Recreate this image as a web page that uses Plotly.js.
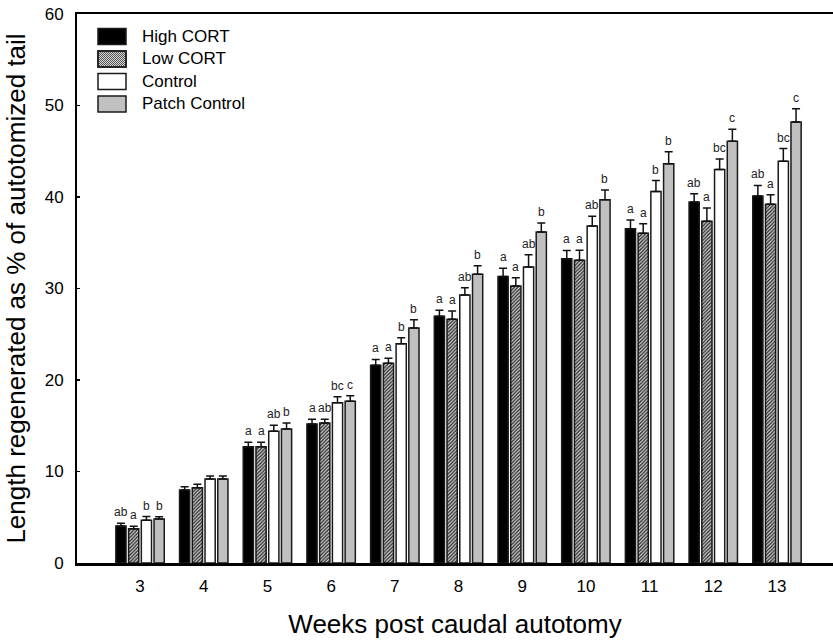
<!DOCTYPE html>
<html>
<head>
<meta charset="utf-8">
<script src="https://cdn.plot.ly/plotly-3.0.1.min.js"></script>
<style>html,body{margin:0;padding:0;background:#fff;}#chart{width:833px;height:640px;}</style>
</head>
<body>
<div id="chart"></div>
<script>
// ---- data ----
const weeks = [3, 4, 5, 6, 7, 8, 9, 10, 11, 12, 13];
const seriesNames = ["High CORT", "Low CORT", "Control", "Patch Control"];

const highCort = [4.04, 7.98, 12.7, 15.2, 21.6, 26.96, 31.3, 33.26, 36.54, 39.45, 40.1];
const lowCort = [3.75, 8.23, 12.7, 15.3, 21.82, 26.63, 30.27, 33.1, 36.03, 37.34, 39.2];
const control = [4.67, 9.18, 14.4, 17.52, 23.97, 29.3, 32.35, 36.83, 40.6, 43.0, 43.9];
const patchControl = [4.8, 9.18, 14.64, 17.67, 25.68, 31.55, 36.17, 39.7, 43.64, 46.1, 48.2];

const highCortErr = [0.3, 0.36, 0.5, 0.5, 0.65, 0.65, 0.9, 0.9, 0.95, 0.9, 1.17];
const lowCortErr = [0.27, 0.37, 0.5, 0.4, 0.55, 0.9, 0.9, 1.07, 1.05, 1.45, 1.05];
const controlErr = [0.4, 0.33, 0.65, 0.65, 0.65, 0.77, 1.35, 1.07, 1.2, 1.15, 1.4];
const patchControlErr = [0.26, 0.33, 0.66, 0.6, 0.9, 0.95, 1.0, 1.07, 1.3, 1.3, 1.45];

const highCortLetters = ["ab", "", "a", "a", "a", "a", "a", "a", "a", "ab", "ab"];
const lowCortLetters = ["a", "", "a", "ab", "a", "a", "a", "a", "a", "a", "a"];
const controlLetters = ["b", "", "ab", "bc", "b", "ab", "ab", "ab", "b", "bc", "bc"];
const patchControlLetters = ["b", "", "b", "c", "b", "b", "b", "b", "b", "c", "c"];

const yTickVals = [0, 10, 20, 30, 40, 50, 60];

// ---- styling ----
const FONT = "Arial, 'Liberation Sans', sans-serif";
const values = [highCort, lowCort, control, patchControl];
const errs = [highCortErr, lowCortErr, controlErr, patchControlErr];
const letters = [highCortLetters, lowCortLetters, controlLetters, patchControlLetters];
const fills = ["#000000", "#ffffff", "#ffffff", "#c0c0c0"];
const BARGAP = 0.2, GROUPGAP = 0.2;

const traces = values.map((v, i) => {
  const marker = {color: fills[i], line: {color: "#1a1a1a", width: 1.5}};
  if (i === 1) {
    marker.pattern = {shape: "/", fgcolor: "#222222", bgcolor: "#d8d8d8", size: 2.5, solidity: 0.5, fillmode: "replace"};
  }
  return {
    type: "bar", name: seriesNames[i], x: weeks, y: v,
    marker: marker,
    error_y: {type: "data", symmetric: false, array: errs[i], arrayminus: v.map(() => 0),
              color: "#111", thickness: 1.5, width: 4},
    showlegend: false, hoverinfo: "x+y"
  };
});

// letters above the error bars
const slot = (1 - BARGAP) / values.length;
const annotations = [];
letters.forEach((arr, i) => {
  arr.forEach((t, j) => {
    if (!t) return;
    annotations.push({
      x: weeks[j] + (i - (values.length - 1) / 2) * slot,
      y: values[i][j] + errs[i][j],
      xref: "x", yref: "y", text: t, showarrow: false,
      yanchor: "bottom", yshift: 2,
      font: {family: FONT, size: 12, color: "#222"}
    });
  });
});

// custom legend (paper coordinates)
const L = 77, R = 833, T = 14, B = 563;
const px = v => (v - L) / (R - L);
const py = v => (B - v) / (B - T);
const shapes = [];
const legendFills = ["#000000", "#d8d8d8", "#ffffff", "#c0c0c0"];
seriesNames.forEach((name, i) => {
  const cy = 36.5 + i * 22.5;
  const x0 = 98, x1 = 126, y0 = cy - 8, y1 = cy + 8;
  shapes.push({type: "rect", xref: "paper", yref: "paper",
    x0: px(x0), x1: px(x1), y0: py(y1), y1: py(y0),
    fillcolor: legendFills[i], line: {color: "#1a1a1a", width: 1.5}, layer: "above"});
  if (i === 1) {
    const h = y1 - y0;
    let d = "";
    for (let k = x0 - h; k < x1; k += 2) {
      let sx = k, sy = y1, ex = k + h, ey = y0;
      if (sx < x0) { sy = y1 - (x0 - sx); sx = x0; }
      if (ex > x1) { ey = y0 + (ex - x1); ex = x1; }
      if (ex <= sx) continue;
      d += "M" + px(sx) + "," + py(sy) + "L" + px(ex) + "," + py(ey);
    }
    shapes.push({type: "path", xref: "paper", yref: "paper", path: d,
      line: {color: "#333", width: 0.8}, layer: "above"});
    shapes.push({type: "rect", xref: "paper", yref: "paper",
      x0: px(x0), x1: px(x1), y0: py(y1), y1: py(y0),
      fillcolor: "rgba(0,0,0,0)", line: {color: "#1a1a1a", width: 1.5}, layer: "above"});
  }
  annotations.push({xref: "paper", yref: "paper", x: px(140), y: py(cy),
    xanchor: "left", yanchor: "middle", text: name, showarrow: false,
    font: {family: FONT, size: 17, color: "#000"}});
});

const layout = {
  width: 833, height: 640,
  margin: {l: L, r: 833 - R, t: T, b: 640 - B},
  paper_bgcolor: "#fff", plot_bgcolor: "#fff",
  barmode: "group", bargap: BARGAP, bargroupgap: GROUPGAP,
  font: {family: FONT, color: "#000"},
  showlegend: false,
  xaxis: {
    range: [2.01, 13.88], tickvals: weeks, ticktext: weeks.map(String),
    showgrid: false, zeroline: false, showline: true, linecolor: "#000", linewidth: 2.5,
    mirror: true, ticks: "", tickfont: {family: FONT, size: 17, color: "#000"},
    ticklabelstandoff: 6,
    title: {text: "Weeks post caudal autotomy", font: {family: FONT, size: 26, color: "#000"}, standoff: 20}
  },
  yaxis: {
    range: [0, 60], tickvals: yTickVals, ticktext: yTickVals.map(String),
    showgrid: false, zeroline: false, showline: true, linecolor: "#000", linewidth: 2,
    ticks: "inside", ticklen: 3, tickwidth: 1.5, tickcolor: "#000",
    tickfont: {family: FONT, size: 17, color: "#000"}, ticklabelstandoff: 8,
    title: {text: "Length regenerated as % of autotomized tail", font: {family: FONT, size: 26, color: "#000"}, standoff: 12}
  },
  annotations: annotations,
  shapes: shapes
};

Plotly.newPlot("chart", traces, layout, {displayModeBar: false, staticPlot: true});
</script>
</body>
</html>
